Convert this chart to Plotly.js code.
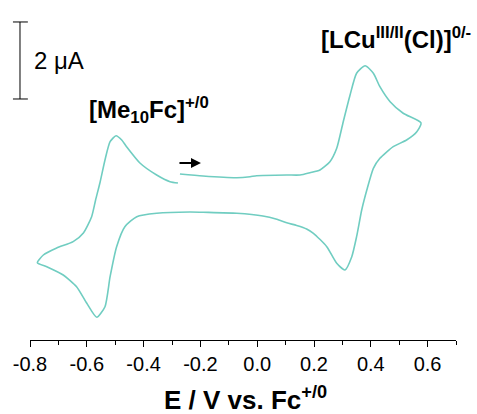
<!DOCTYPE html>
<html>
<head>
<meta charset="utf-8">
<script src="https://cdn.plot.ly/plotly-3.0.1.min.js"></script>
<style>html,body{margin:0;padding:0;background:#fff;}#chart{width:477px;height:414px;}</style>
</head>
<body>
<div id="chart"></div>
<script>
// Potential (V vs Fc+/0) and current (µA, arbitrary offset), following the scan
const potential = [
  -0.272, -0.191, -0.072, -0.025, -0.002, 0.104, 0.151, 0.186, 0.221, 0.256, 0.280, 0.303, 0.327, 0.350, 0.380, 0.409, 0.432, 0.468, 0.514, 0.577,
  0.562, 0.526, 0.479, 0.432, 0.409, 0.386, 0.368, 0.350, 0.333, 0.309, 0.280, 0.245, 0.198, 0.174, 0.139, 0.104, 0.069, 0.020, -0.072, -0.191, -0.237, -0.354, -0.424, -0.466, -0.495, -0.518, -0.536, -0.565, -0.600, -0.636, -0.683, -0.741, -0.774,
  -0.753, -0.706, -0.648, -0.612, -0.583, -0.569, -0.553, -0.536, -0.518, -0.497, -0.477, -0.460, -0.413, -0.354, -0.307, -0.279
];
const current = [
  0.987, 0.935, 0.891, 0.917, 0.943, 0.961, 0.961, 1.021, 1.091, 1.306, 1.655, 2.345, 3.039, 3.603, 3.800, 3.603, 3.255, 2.865, 2.564, 2.312,
  2.086, 1.870, 1.696, 1.395, 1.135, 0.571, 0.052, -0.642, -1.161, -1.506, -1.332, -0.901, -0.553, -0.440, -0.350, -0.280, -0.190, -0.104, -0.034, -0.008, 0.000, -0.034, -0.122, -0.382, -0.901, -1.681, -2.460, -2.735, -2.371, -1.940, -1.636, -1.421, -1.317,
  -1.117, -0.935, -0.771, -0.545, -0.122, 0.312, 0.780, 1.351, 1.826, 1.982, 1.870, 1.696, 1.273, 0.961, 0.787, 0.753
];
const tickValues = [-0.8, -0.6, -0.4, -0.2, 0.0, 0.2, 0.4, 0.6];
const tickLabels = ["-0.8", "-0.6", "-0.4", "-0.2", "0.0", "0.2", "0.4", "0.6"];
const scaleBar = [2.935, 4.935]; // µA, a 2 µA bar
const arrowHead = {E: -0.198, I: 1.273};

const F = "Arial, 'Liberation Sans', sans-serif";

const trace = {
  x: potential, y: current, type: 'scatter', mode: 'lines',
  line: {color: '#70cdc1', width: 1.6, shape: 'spline', smoothing: 0.6},
  hoverinfo: 'none', showlegend: false
};

const layout = {
  width: 477, height: 414,
  margin: {l: 30, r: 21, t: 0, b: 74},
  paper_bgcolor: '#fff', plot_bgcolor: '#fff',
  font: {family: F, color: '#000'},
  xaxis: {
    range: [-0.8, 0.7], tickvals: tickValues, ticktext: tickLabels,
    ticks: 'outside', ticklen: 6, tickwidth: 1, tickcolor: '#000',
    minor: {dtick: 0.1, tick0: -0.8, ticks: 'outside', ticklen: 4, tickwidth: 1, tickcolor: '#000'},
    showline: true, linecolor: '#000', linewidth: 1,
    showgrid: false, zeroline: false,
    tickfont: {family: F, size: 20, color: '#000'}
  },
  yaxis: {range: [-3.325, 5.506], visible: false, showgrid: false, zeroline: false},
  shapes: [
    {type: 'line', xref: 'paper', yref: 'y', x0: -0.0235, x1: -0.0235, y0: scaleBar[0], y1: scaleBar[1], line: {color: '#000', width: 1}},
    {type: 'line', xref: 'paper', yref: 'y', x0: -0.040, x1: -0.005, y0: scaleBar[0], y1: scaleBar[0], line: {color: '#000', width: 1}},
    {type: 'line', xref: 'paper', yref: 'y', x0: -0.040, x1: -0.005, y0: scaleBar[1], y1: scaleBar[1], line: {color: '#000', width: 1}}
  ],
  annotations: [
    {xref: 'paper', yref: 'y', x: 0.005, y: (scaleBar[0] + scaleBar[1]) / 2, xanchor: 'left', yanchor: 'middle',
     text: '2 \u03bcA', showarrow: false, font: {family: F, size: 24, color: '#000'}},
    {xref: 'paper', yref: 'paper', x: 0.134, y: 0.676, xanchor: 'left', yanchor: 'middle',
     text: '<b>[Me<sub>10</sub>Fc]<sup>+/0</sup></b>', showarrow: false, font: {family: F, size: 24, color: '#000'}},
    {xref: 'paper', yref: 'paper', x: 0.679, y: 0.888, xanchor: 'left', yanchor: 'middle',
     text: '<b>[LCu<sup>III/II</sup>(Cl)]<sup>0/-</sup></b>', showarrow: false, font: {family: F, size: 24, color: '#000'}},
    {xref: 'paper', yref: 'paper', x: 0.5047, y: -0.171, xanchor: 'center', yanchor: 'middle',
     text: '<b>E / V vs. Fc<sup>+/0</sup></b>', showarrow: false, font: {family: F, size: 26, color: '#000'}},
    {xref: 'x', yref: 'y', x: arrowHead.E, y: arrowHead.I, ax: -23, ay: 0, text: '',
     showarrow: true, arrowhead: 2, arrowsize: 1, arrowwidth: 2, arrowcolor: '#000', standoff: 0}
  ]
};

Plotly.newPlot('chart', [trace], layout, {staticPlot: true, displayModeBar: false});
</script>
</body>
</html>
